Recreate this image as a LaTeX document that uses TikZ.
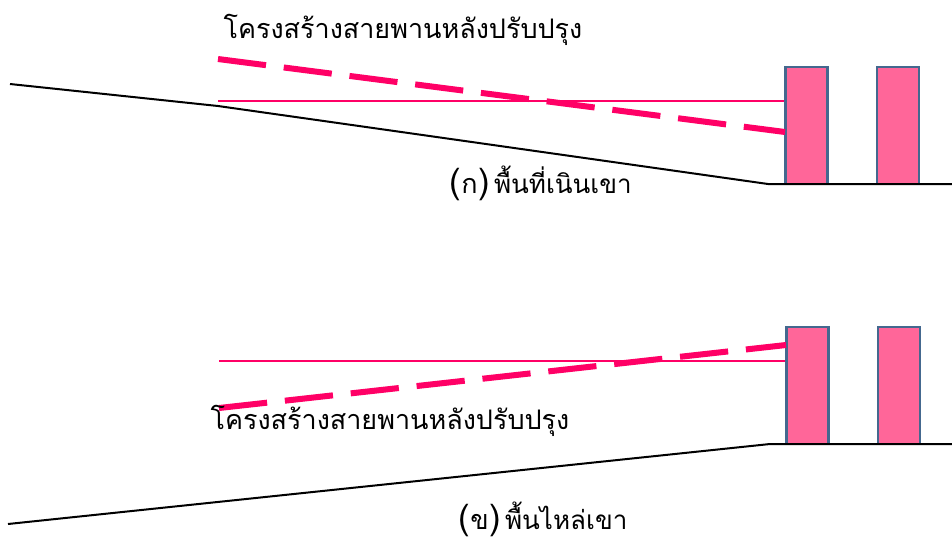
\documentclass[tikz,border=0pt]{standalone}
\usepackage{fontspec}
\setmainfont{Liberation Serif}
\newfontfamily\thaifont[Script=Thai]{Loma}
\definecolor{pierblue}{HTML}{44688F}
\definecolor{pierpink}{HTML}{FF6699}
\definecolor{roadpink}{HTML}{FF0066}
\tikzset{
 ground/.style={draw=black,line width=1.5pt},
 pier/.style={draw=pierblue,fill=pierpink,line width=1.9pt,rectangle,inner sep=0pt,minimum width=31.5pt,minimum height=87.5pt},
 oldroad/.style={draw=roadpink,line width=1.7pt},
 newroad/.style={draw=roadpink,line width=4.5pt,dash pattern=on 36.3pt off 13.4pt},
 thaitext/.style={inner sep=0pt,anchor=center,font=\thaifont\fontsize{20.2}{24}\selectfont},
 caption/.style={inner sep=0pt,anchor=base west,font=\thaifont\fontsize{19.5}{24}\selectfont},
}
\newcommand{\parenth}[1]{{\fontsize{26}{30}\selectfont(}\kern0.5pt{\thaifont\fontsize{20.2}{24}\selectfont #1}\kern0.5pt{\fontsize{26}{30}\selectfont)}\kern3pt}
\begin{document}
\begin{tikzpicture}[x=0.75pt,y=-0.75pt]
\useasboundingbox (0,0) rectangle (952,540);
\fill[white] (0,0) rectangle (952,540);
% upper panel
\node[pier] (p1) at (806.5,125.5) {};
\node[pier] (p2) at (898,125.5) {};
\coordinate (a1) at (10,84); \coordinate (a2) at (218,106); \coordinate (a3) at (768,184); \coordinate (a4) at (952,184);
\draw[ground,line join=round] (a1) -- (a2) -- (a3) -- (a4);
\coordinate (o1) at (218,101); \coordinate (n1) at (218,59); \coordinate (n2) at (785,132);
\draw[oldroad] (o1) -- (o1-|p1.west);
\draw[newroad] (n1) -- (n2);
\node[thaitext] (t1) at (403,30) {โครงสร้างสายพานหลังปรับปรุง};
\node[caption] (c1) at (449,193) {\parenth{ก}พื้นที่เนินเขา};
% lower panel
\node[pier] (p3) at (807.5,385.5) {};
\node[pier] (p4) at (899,385.5) {};
\coordinate (b1) at (8,524); \coordinate (b2) at (770,444); \coordinate (b3) at (952,444);
\draw[ground,line join=round] (b1) -- (b2) -- (b3);
\coordinate (o2) at (219,361); \coordinate (m1) at (219,408); \coordinate (m2) at (786,345);
\draw[oldroad] (o2) -- (o2-|p3.west);
\draw[newroad] (m1) -- (m2);
\node[thaitext] (t2) at (390,421) {โครงสร้างสายพานหลังปรับปรุง};
\node[caption] (c2) at (458,529) {\parenth{ข}พื้นไหล่เขา};
\end{tikzpicture}
\end{document}
